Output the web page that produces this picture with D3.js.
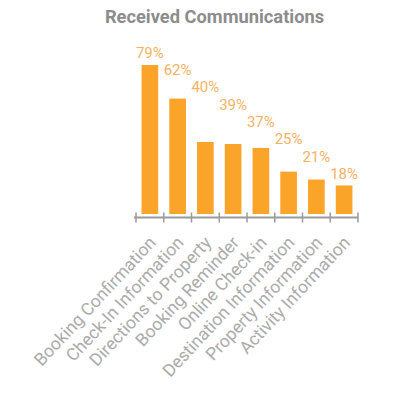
<!DOCTYPE html>
<html>
<head>
<meta charset="utf-8">
<script src="https://cdn.jsdelivr.net/npm/d3@7"></script>
<style>
  body { margin: 0; background: #fff; }
  svg { display: block; font-family: Roboto, "Noto Sans", sans-serif; }
</style>
</head>
<body>
<div id="chart"></div>
<script>
var categories = ["Booking Confirmation", "Check-In Information", "Directions to Property",
                  "Booking Reminder", "Online Check-in", "Destination Information",
                  "Property Information", "Activity Information"];
var percents = [79, 62, 40, 39, 37, 25, 21, 18];
var title = "Received Communications";

var width = 415, height = 398;
var barColor = "#fba42a", labelColor = "#f6b262", axisColor = "#9a9a9a";
var plotBottom = 214, axisY = 217.5;

var svg = d3.select("#chart").append("svg").attr("width", width).attr("height", height);

var x = d3.scaleBand().domain(categories).range([136, 358]).paddingInner(0.4).paddingOuter(0.2);
var y = d3.scaleLinear().domain([0, 79]).range([221, 65]);

svg.append("text")
    .attr("x", 214.5).attr("y", 22.7)
    .attr("text-anchor", "middle")
    .style("font-size", "18.3px").style("font-weight", "bold")
    .style("fill", "#8c8c8c")
    .text(title);

// bars
svg.append("g").selectAll("rect")
    .data(percents)
  .enter().append("rect")
    .attr("x", function(d, i) { return x(categories[i]); })
    .attr("y", function(d) { return y(d); })
    .attr("width", x.bandwidth())
    .attr("height", function(d) { return plotBottom - y(d); })
    .style("fill", barColor);

// value labels step down from the first bar to the last one
var n = percents.length;
var labelY = d3.scaleLinear().domain([0, n - 1])
    .range([y(percents[0]) - 7.5, y(percents[n - 1]) - 6.5]);

svg.append("g").selectAll("text")
    .data(percents)
  .enter().append("text")
    .attr("x", function(d, i) { return x(categories[i]) + x.bandwidth() / 2; })
    .attr("y", function(d, i) { return labelY(i); })
    .attr("text-anchor", "middle")
    .style("font-size", "15px")
    .style("fill", labelColor)
    .text(function(d) { return d + "%"; });

// axis line + boundary ticks
var half = x.step() * x.paddingInner() / 2;
var bounds = categories.map(function(c) { return x(c) - half; });
bounds.push(x(categories[n - 1]) + x.bandwidth() + half);

var ax = svg.append("g");
ax.append("line")
    .attr("x1", bounds[0] - 2).attr("x2", bounds[n])
    .attr("y1", axisY).attr("y2", axisY)
    .style("stroke", axisColor).style("stroke-width", 2);
ax.selectAll(".tick")
    .data(bounds)
  .enter().append("line")
    .attr("class", "tick")
    .attr("x1", function(d) { return d; }).attr("x2", function(d) { return d; })
    .attr("y1", axisY - 5).attr("y2", axisY + 5)
    .style("stroke", axisColor).style("stroke-width", 1.5);

// rotated category labels
ax.selectAll(".cat")
    .data(categories)
  .enter().append("text")
    .attr("class", "cat")
    .attr("text-anchor", "end")
    .attr("transform", function(d) {
      return "translate(" + (x(d) + x.bandwidth() / 2 + 7) + "," + (axisY + 26) + ") rotate(-47)";
    })
    .style("font-size", "17.5px")
    .style("fill", "#ababab")
    .text(function(d) { return d; });
</script>
</body>
</html>
